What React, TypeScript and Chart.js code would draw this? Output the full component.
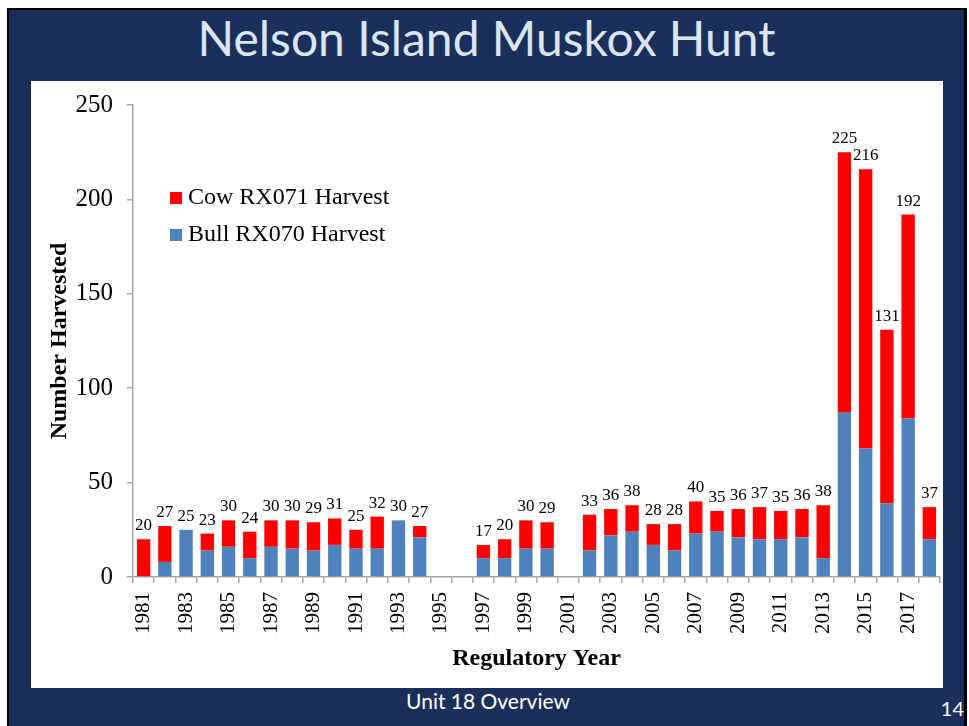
import React, { useEffect, useRef } from "react";
import { Chart, registerables } from "chart.js";
Chart.register(...registerables);

const years = [
  "1981", "1982", "1983", "1984", "1985", "1986", "1987", "1988", "1989", "1990",
  "1991", "1992", "1993", "1994", "1995", "1996", "1997", "1998", "1999", "2000",
  "2001", "2002", "2003", "2004", "2005", "2006", "2007", "2008", "2009", "2010",
  "2011", "2012", "2013", "2014", "2015", "2016", "2017", "2018",
];
const bullHarvest = [
  0, 8, 25, 14, 16, 10, 16, 15, 14, 17,
  15, 15, 30, 21, null, null, 10, 10, 15, 15,
  null, 14, 22, 24, 17, 14, 23, 24, 21, 20,
  20, 21, 10, 87, 68, 39, 84, 20,
];
const cowHarvest = [
  20, 19, 0, 9, 14, 14, 14, 15, 15, 14,
  10, 17, 0, 6, null, null, 7, 10, 15, 14,
  null, 19, 14, 14, 11, 14, 17, 11, 15, 17,
  15, 15, 28, 138, 148, 92, 108, 17,
];
const yTicks = [0, 50, 100, 150, 200, 250];

const NAVY = "#1b2f5b";
const RED = "#ff0000";
const BLUE = "#4f81bd";
const AXIS = "#a6a6a6";
const SERIF = "'Liberation Serif', 'Times New Roman', serif";
const SANS = "Lato, 'Open Sans', sans-serif";

const overlayPlugin = {
  id: "overlay",
  afterDatasetsDraw(chart: any) {
    const { ctx, scales } = chart;
    const x = scales.x;
    const y = scales.y;
    ctx.save();
    ctx.font = `17px ${SERIF}`;
    ctx.fillStyle = "#000";
    ctx.textAlign = "center";
    ctx.textBaseline = "alphabetic";
    years.forEach((_, i) => {
      const total = (bullHarvest[i] ?? 0) + (cowHarvest[i] ?? 0);
      if (!total) return;
      ctx.fillText(String(total), x.getPixelForValue(i), y.getPixelForValue(total) - 9);
    });
    const items = [
      { text: "Cow RX071 Harvest", color: RED },
      { text: "Bull RX070 Harvest", color: BLUE },
    ];
    ctx.font = `24px ${SERIF}`;
    ctx.textAlign = "left";
    items.forEach((it, k) => {
      const top = 111 + k * 37;
      ctx.fillStyle = it.color;
      ctx.fillRect(139, top, 12, 12);
      ctx.fillStyle = "#000";
      ctx.fillText(it.text, 157, top + 12);
    });
    ctx.restore();
  },
};

function HarvestChart() {
  const ref = useRef<HTMLCanvasElement | null>(null);
  useEffect(() => {
    if (!ref.current) return;
    const chart = new Chart(ref.current, {
      type: "bar",
      data: {
        labels: years,
        datasets: [
          {
            label: "Bull RX070 Harvest",
            data: bullHarvest,
            backgroundColor: BLUE,
            barPercentage: 0.63,
            categoryPercentage: 1,
          },
          {
            label: "Cow RX071 Harvest",
            data: cowHarvest,
            backgroundColor: RED,
            barPercentage: 0.63,
            categoryPercentage: 1,
          },
        ],
      },
      options: {
        animation: false,
        responsive: false,
        maintainAspectRatio: false,
        layout: { padding: { top: 24, right: 3, left: 0, bottom: 0 } },
        plugins: {
          legend: { display: false },
          tooltip: { enabled: false },
          title: { display: false },
        },
        scales: {
          x: {
            stacked: true,
            afterFit: (s: any) => {
              s.height = 111;
              s.paddingLeft = 0;
              s.paddingRight = 0;
            },
            border: { color: AXIS, width: 1.5 },
            grid: {
              offset: true,
              drawOnChartArea: false,
              drawTicks: true,
              tickLength: 6,
              color: AXIS,
              lineWidth: 1.5,
            },
            ticks: {
              autoSkip: false,
              minRotation: 90,
              maxRotation: 90,
              padding: 9,
              color: "#000",
              font: { family: SERIF, size: 21 },
              callback: (_v: any, i: number) => (i % 2 === 0 ? years[i] : ""),
            },
            title: {
              display: true,
              text: "Regulatory Year",
              color: "#000",
              font: { family: SERIF, size: 24, weight: "bold" },
              padding: { top: 0, bottom: 15 },
            },
          },
          y: {
            stacked: true,
            min: 0,
            max: 250,
            afterFit: (s: any) => {
              s.width = 102;
              s.paddingTop = 0;
              s.paddingBottom = 0;
            },
            afterBuildTicks: (s: any) => {
              s.ticks = yTicks.map((v) => ({ value: v }));
            },
            border: { color: AXIS, width: 1.5 },
            grid: {
              drawOnChartArea: false,
              drawTicks: true,
              tickLength: 6,
              color: AXIS,
              lineWidth: 1.5,
            },
            ticks: {
              padding: 14,
              color: "#000",
              font: { family: SERIF, size: 25 },
            },
            title: {
              display: true,
              text: "Number Harvested",
              color: "#000",
              font: { family: SERIF, size: 24, weight: "bold" },
              padding: { top: 14, bottom: 0 },
            },
          },
        },
      },
      plugins: [overlayPlugin],
    });
    return () => chart.destroy();
  }, []);
  return <canvas ref={ref} width={912} height={607} style={{ display: "block" }} />;
}

export default function App() {
  return (
    <div
      style={{
        position: "absolute",
        left: 7,
        top: 8,
        width: 955,
        height: 718,
        background: NAVY,
        borderLeft: "2px solid #000",
        borderTop: "2px solid #000",
        borderRight: "3px solid #000",
        overflow: "hidden",
      }}
    >
      <div
        style={{
          position: "absolute",
          left: 0,
          right: 0,
          top: -2,
          textAlign: "center",
          color: "#dbe5f1",
          fontFamily: SANS,
          fontSize: 48,
          lineHeight: "60px",
          whiteSpace: "nowrap",
        }}
      >
        Nelson Island Muskox Hunt
      </div>
      <div
        style={{
          position: "absolute",
          left: 22,
          top: 71,
          width: 912,
          height: 607,
          background: "#fff",
        }}
      >
        <HarvestChart />
      </div>
      <div
        style={{
          position: "absolute",
          left: 0,
          width: 958,
          top: 678,
          textAlign: "center",
          color: "#fff",
          fontFamily: SANS,
          fontSize: 21,
          lineHeight: "26px",
        }}
      >
        Unit 18 Overview
      </div>
      <div
        style={{
          position: "absolute",
          right: 0,
          top: 685,
          color: "#fff",
          fontFamily: SANS,
          fontSize: 20,
          lineHeight: "26px",
        }}
      >
        14
      </div>
    </div>
  );
}
